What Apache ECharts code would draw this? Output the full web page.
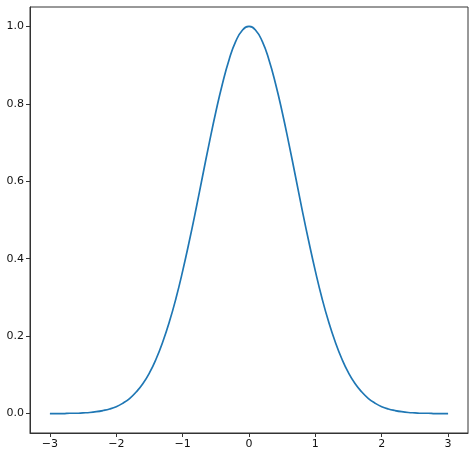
<!DOCTYPE html>
<html>
<head>
<meta charset="utf-8">
<script src="https://cdn.jsdelivr.net/npm/echarts@6/dist/echarts.min.js"></script>
<style>
  html, body { margin: 0; padding: 0; background: #fff; }
  #chart { width: 474px; height: 457px; }
</style>
</head>
<body>
<div id="chart"></div>
<script>
// values, x step 0.1
var xValues = [
  -3.0, -2.9, -2.8, -2.7, -2.6, -2.5, -2.4, -2.3, -2.2, -2.1,
  -2.0, -1.9, -1.8, -1.7, -1.6, -1.5, -1.4, -1.3, -1.2, -1.1,
  -1.0, -0.9, -0.8, -0.7, -0.6, -0.5, -0.4, -0.3, -0.2, -0.1,
  0.0, 0.1, 0.2, 0.3, 0.4, 0.5, 0.6, 0.7, 0.8, 0.9,
  1.0, 1.1, 1.2, 1.3, 1.4, 1.5, 1.6, 1.7, 1.8, 1.9,
  2.0, 2.1, 2.2, 2.3, 2.4, 2.5, 2.6, 2.7, 2.8, 2.9, 3.0
];
var yValues = [
  0.000, 0.000, 0.000, 0.001, 0.001, 0.002, 0.003, 0.005, 0.008, 0.012,
  0.018, 0.027, 0.039, 0.056, 0.077, 0.105, 0.141, 0.185, 0.237, 0.298,
  0.368, 0.445, 0.527, 0.613, 0.698, 0.779, 0.852, 0.914, 0.961, 0.990,
  1.000, 0.990, 0.961, 0.914, 0.852, 0.779, 0.698, 0.613, 0.527, 0.445,
  0.368, 0.298, 0.237, 0.185, 0.141, 0.105, 0.077, 0.056, 0.039, 0.027,
  0.018, 0.012, 0.008, 0.005, 0.003, 0.002, 0.001, 0.001, 0.000, 0.000, 0.000
];
var xTicks = [-3, -2, -1, 0, 1, 2, 3];
var yTicks = [0.0, 0.2, 0.4, 0.6, 0.8, 1.0];

var points = xValues.map(function (x, i) { return [x, yValues[i]]; });

var labelStyle = {
  color: "#111",
  fontSize: 11,
  fontFamily: "DejaVu Sans"
};

var option = {
  animation: false,
  grid: {
    left: 30,
    top: 7,
    right: 6,
    bottom: 24,
    show: true,
    borderColor: "#333",
    borderWidth: 1,
    backgroundColor: "#fff"
  },
  xAxis: {
    type: "value",
    min: -3.3,
    max: 3.3,
    splitLine: { show: false },
    axisLine: { show: true, onZero: false, lineStyle: { color: "#333", width: 1 } },
    axisTick: {
      show: true,
      length: 4,
      customValues: xTicks,
      lineStyle: { color: "#333" }
    },
    axisLabel: Object.assign({
      margin: 6,
      customValues: xTicks,
      formatter: function (v) { return v < 0 ? "\u2212" + Math.abs(v) : String(v); }
    }, labelStyle)
  },
  yAxis: {
    type: "value",
    min: -0.05,
    max: 1.05,
    splitLine: { show: false },
    axisLine: { show: true, onZero: false, lineStyle: { color: "#333", width: 1 } },
    axisTick: {
      show: true,
      length: 4,
      customValues: yTicks,
      lineStyle: { color: "#333" }
    },
    axisLabel: Object.assign({
      margin: 6,
      customValues: yTicks,
      formatter: function (v) { return v.toFixed(1); }
    }, labelStyle)
  },
  series: [{
    type: "line",
    data: points,
    smooth: true,
    showSymbol: false,
    lineStyle: { color: "#1f77b4", width: 1.7, join: "round" }
  }]
};

var myChart = echarts.init(document.getElementById("chart"));
myChart.setOption(option);
</script>
</body>
</html>
